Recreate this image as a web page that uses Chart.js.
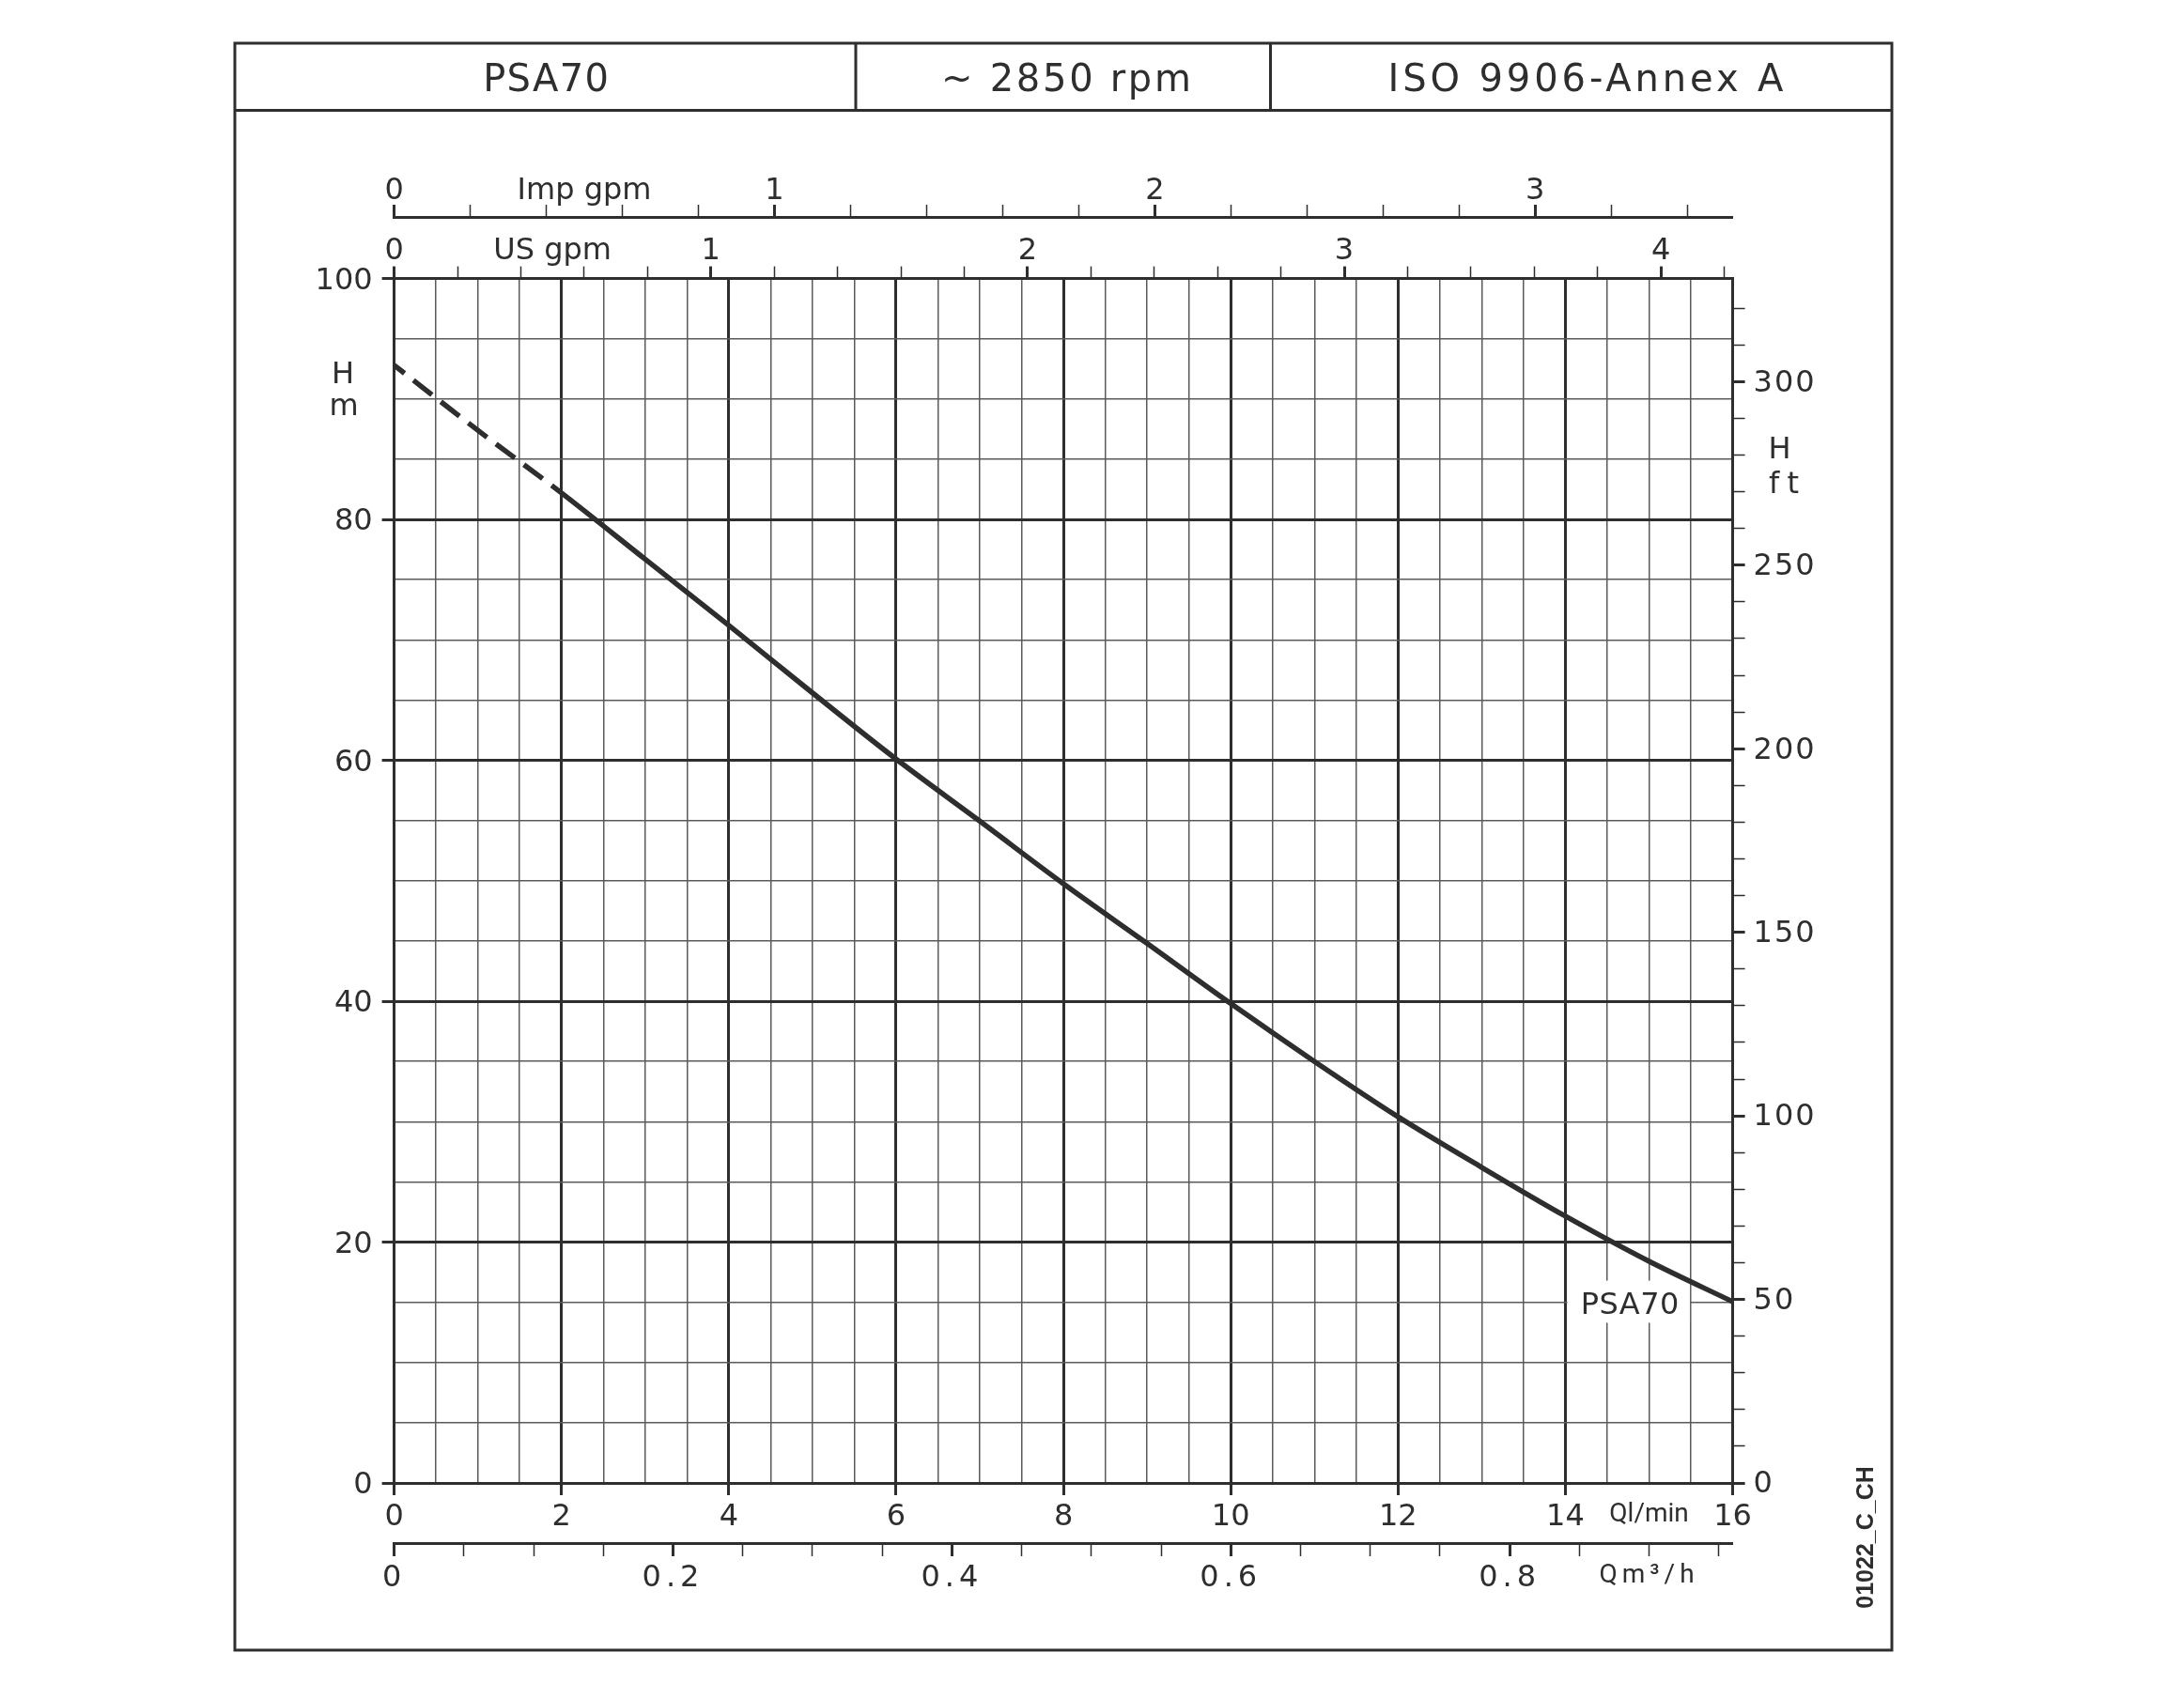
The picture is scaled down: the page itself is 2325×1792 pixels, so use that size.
<!DOCTYPE html>
<html lang="en">
<head>
<meta charset="utf-8">
<title>PSA70 pump curve</title>
<script src="https://cdn.jsdelivr.net/npm/chart.js@4.4.1/dist/chart.umd.min.js"></script>
<style>
  html, body { margin: 0; padding: 0; background: #ffffff; }
  canvas { display: block; }
</style>
</head>
<body>
<canvas id="pumpChart" width="2325" height="1792"></canvas>
<script>
// PSA70 ~2850 rpm, head against flow
const flowLmin = [0, 1, 2, 3, 4, 5, 6, 7, 8, 9, 10, 11, 12, 13, 14, 15, 16];
const headM    = [92.8, 87.4, 82.2, 76.7, 71.2, 65.6, 60.1, 54.95, 49.75, 44.8, 39.8, 35.0, 30.4, 26.2, 22.15, 18.4, 15.05];
const dashedUpTo = 2;   // curve is drawn dashed below this flow

const qlTickValues  = [0, 2, 4, 6, 8, 10, 12, 14, 15, 16];
const qlTickLabels  = ['0', '2', '4', '6', '8', '10', '12', '14', 'Ql/min', '16'];
const m3hTickValues = [0, 0.2, 0.4, 0.6, 0.8, 0.9];
const m3hTickLabels = ['0', '0.2', '0.4', '0.6', '0.8', 'Qm³/h'];
const usTickValues  = [0, 0.5, 1, 2, 3, 4];
const usTickLabels  = ['0', 'US gpm', '1', '2', '3', '4'];
const impTickValues = [0, 0.5, 1, 2, 3];
const impTickLabels = ['0', 'Imp gpm', '1', '2', '3'];
const headTickValues = [0, 20, 40, 60, 80, 100];
const feetTickValues = [0, 50, 100, 150, 200, 250, 300];

const headerTexts = ['PSA70', '~ 2850 rpm', 'ISO 9906-Annex A'];
const curveName = 'PSA70';
const drawingNo = '01022_C_CH';

const L_PER_USGAL = 3.785411784;
const L_PER_IMPGAL = 4.54609;
const M_PER_FT = 0.3048;
const Q_MAX = 16;
const H_MAX = 100;

const ink = '#2e2e2e';
const thin = '#5a5a5a';
const clear = 'rgba(0,0,0,0)';
const numFont = { family: "'DejaVu Sans', sans-serif", size: 32 };
const unitFont = { family: "Roboto, sans-serif", size: 28 };

// letter spacing and small vertical nudge for some tick rows
const tickSpacing = { xm3: '5px', yft: '2px' };
const tickNudge = { xus: 7, ximp: 9, y: 3, yft: 2 };

function near(a, b) { return Math.abs(a - b) < 1e-6; }
function isStep(v, m) { return near(v / m, Math.round(v / m)); }
function labelAt(values, labels, v) {
  const i = values.findIndex(t => near(t, v));
  return i < 0 ? '' : labels[i];
}
function steps(max, step) {
  const out = [];
  for (let i = 0; i * step <= max + 1e-9; i++) out.push(Math.round(i * step * 1000) / 1000);
  return out;
}
// minor tick every `step`, plus extra ticks that only carry a label
function tickBuilder(step, labelValues) {
  return scale => {
    const vals = steps(scale.max, step);
    labelValues.forEach(v => { if (!vals.some(t => near(t, v))) vals.push(v); });
    vals.sort((a, b) => a - b);
    scale.ticks = vals.map(v => ({ value: v }));
  };
}
function tickOf(c) { return c.tick ? c.tick.value : 0; }

// secondary unit scale, only border, tick marks and labels
function unitAxis(o) {
  return {
    type: 'linear',
    position: o.position,
    weight: o.weight,
    min: 0,
    max: o.max,
    afterBuildTicks: tickBuilder(o.step, o.values),
    afterFit: s => { if (o.height) s.height = o.height; if (o.width) s.width = o.width; },
    border: { display: true, color: ink, width: 3 },
    grid: {
      drawOnChartArea: false,
      tickLength: o.tickLength || 13,
      tickColor: c => isStep(tickOf(c), o.step) ? ink : clear,
      tickWidth: c => isStep(tickOf(c), o.major) ? 3 : 1.5
    },
    ticks: {
      autoSkip: false, maxRotation: 0, minRotation: 0,
      padding: o.padding, color: ink,
      font: c => (o.unitAt !== undefined && c.tick && near(c.tick.value, o.unitAt)) ? unitFont : numFont,
      callback: v => labelAt(o.values, o.labels, v)
    }
  };
}

function spacedText(ctx, str, x, y, font, spacing, align) {
  ctx.font = font;
  ctx.letterSpacing = spacing || '0px';
  ctx.textAlign = align || 'center';
  const sp = parseFloat(spacing || '0');
  ctx.fillText(str, x + (align === 'center' || !align ? sp / 2 : 0), y);
}

const sheetPlugin = {
  id: 'sheet',
  beforeDraw(chart) {
    Object.keys(chart.scales).forEach(id => {
      const s = chart.scales[id];
      if (s._tuned || (!tickSpacing[id] && !tickNudge[id])) return;
      const orig = s.drawLabels;
      s.drawLabels = function (area) {
        this.ctx.save();
        if (tickSpacing[id]) this.ctx.letterSpacing = tickSpacing[id];
        if (tickNudge[id]) this.ctx.translate(0, tickNudge[id]);
        orig.call(this, area);
        this.ctx.restore();
      };
      s._tuned = true;
    });
  },
  beforeDatasetsDraw(chart) {
    const { ctx } = chart;
    const x = chart.scales.x, y = chart.scales.y;
    // white patch under the curve name
    const l = x.getPixelForValue(14) + 2, r = x.getPixelForValue(15.5) - 1;
    const t = y.getPixelForValue(16.8), b = y.getPixelForValue(13.3);
    ctx.save();
    ctx.fillStyle = '#ffffff';
    ctx.fillRect(l, t, r - l, b - t);
    ctx.fillStyle = ink;
    ctx.textBaseline = 'alphabetic';
    spacedText(ctx, curveName, x.getPixelForValue(14.77), y.getPixelForValue(14.0), "32px 'DejaVu Sans'", '0.5px');
    ctx.restore();
  },
  afterDraw(chart) {
    const { ctx } = chart;
    ctx.save();
    ctx.strokeStyle = ink;
    ctx.lineWidth = 3;
    ctx.strokeRect(250, 46, 1764, 1711);
    ctx.beginPath();
    ctx.moveTo(250, 117.5); ctx.lineTo(2014, 117.5);
    ctx.moveTo(911, 46); ctx.lineTo(911, 117.5);
    ctx.moveTo(1352.5, 46); ctx.lineTo(1352.5, 117.5);
    ctx.stroke();

    ctx.fillStyle = ink;
    ctx.textBaseline = 'alphabetic';
    spacedText(ctx, headerTexts[0], 581, 96.5, "40px 'DejaVu Sans'", '1.3px');
    spacedText(ctx, headerTexts[1], 1135, 96.5, "40px 'DejaVu Sans'", '2.7px');
    spacedText(ctx, headerTexts[2], 1688, 96.5, "40px 'DejaVu Sans'", '3.9px');

    // unit letters beside the head axes
    spacedText(ctx, 'H', 365, 408, "32px 'DejaVu Sans'");
    spacedText(ctx, 'm', 366, 442, "32px 'DejaVu Sans'");
    spacedText(ctx, 'H', 1894.5, 488, "32px 'DejaVu Sans'");
    spacedText(ctx, 'ft', 1899, 525, "32px 'DejaVu Sans'", '9px');

    // drawing number, rotated
    ctx.letterSpacing = '0px';
    ctx.translate(1987.5, 1637);
    ctx.rotate(-Math.PI / 2);
    ctx.font = "bold 25px 'Liberation Sans'";
    ctx.textAlign = 'center';
    ctx.textBaseline = 'middle';
    ctx.fillText(drawingNo, 0, 0);
    ctx.restore();
  }
};

Chart.defaults.font.family = "'DejaVu Sans', sans-serif";
Chart.defaults.color = ink;

const ctx = document.getElementById('pumpChart').getContext('2d');
const pumpChart = new Chart(ctx, {
  type: 'line',
  data: {
    datasets: [{
      label: curveName,
      data: flowLmin.map((q, i) => ({ x: q, y: headM[i] })),
      xAxisID: 'x',
      yAxisID: 'y',
      borderColor: ink,
      borderWidth: 5.5,
      borderCapStyle: 'butt',
      borderDashOffset: 11,
      pointRadius: 0,
      fill: false,
      cubicInterpolationMode: 'monotone',
      clip: 8,
      segment: {
        borderDash: c => c.p1.parsed.x <= dashedUpTo ? [25, 12] : undefined
      }
    }]
  },
  options: {
    responsive: false,
    animation: false,
    devicePixelRatio: 1,
    layout: { padding: { left: 309.6, right: 370.4, top: 161, bottom: 89 } },
    plugins: { legend: { display: false }, tooltip: { enabled: false } },
    scales: {
      x: {
        type: 'linear', position: 'bottom', weight: 0,
        min: 0, max: Q_MAX,
        afterBuildTicks: tickBuilder(0.5, qlTickValues),
        afterFit: s => { s.height = 64; },
        border: { display: true, color: ink, width: 3 },
        grid: {
          color: c => isStep(tickOf(c), 2) ? ink : thin,
          lineWidth: c => isStep(tickOf(c), 2) ? 3 : 1.5,
          tickColor: c => isStep(tickOf(c), 2) ? ink : clear,
          tickWidth: 3,
          tickLength: 13
        },
        ticks: {
          autoSkip: false, maxRotation: 0, minRotation: 0, padding: 4, color: ink,
          font: c => (c.tick && near(c.tick.value, 15)) ? unitFont : numFont,
          callback: v => labelAt(qlTickValues, qlTickLabels, v)
        }
      },
      xm3: unitAxis({
        position: 'bottom', weight: 1, max: Q_MAX * 60 / 1000,
        step: 0.05, major: 0.2, values: m3hTickValues, labels: m3hTickLabels,
        unitAt: 0.9, height: 60, tickLength: 14, padding: 4
      }),
      xus: unitAxis({
        position: 'top', weight: 0, max: Q_MAX / L_PER_USGAL,
        step: 0.2, major: 1, values: usTickValues, labels: usTickLabels,
        height: 65.6, padding: 4
      }),
      ximp: unitAxis({
        position: 'top', weight: 1, max: Q_MAX / L_PER_IMPGAL,
        step: 0.2, major: 1, values: impTickValues, labels: impTickLabels,
        height: 70, padding: 4
      }),
      y: {
        type: 'linear', position: 'left', weight: 0,
        min: 0, max: H_MAX,
        afterBuildTicks: tickBuilder(5, headTickValues),
        afterFit: s => { s.width = 110; },
        border: { display: true, color: ink, width: 3 },
        grid: {
          color: c => isStep(tickOf(c), 20) ? ink : thin,
          lineWidth: c => isStep(tickOf(c), 20) ? 3 : 1.5,
          tickColor: c => isStep(tickOf(c), 20) ? ink : clear,
          tickWidth: 3,
          tickLength: 13
        },
        ticks: {
          autoSkip: false, padding: 10, color: ink, font: numFont,
          callback: v => labelAt(headTickValues, headTickValues.map(String), v)
        }
      },
      yft: unitAxis({
        position: 'right', weight: 0, max: H_MAX / M_PER_FT,
        step: 10, major: 50, values: feetTickValues, labels: feetTickValues.map(String),
        width: 110, padding: 9
      })
    }
  },
  plugins: [sheetPlugin]
});
</script>
</body>
</html>
